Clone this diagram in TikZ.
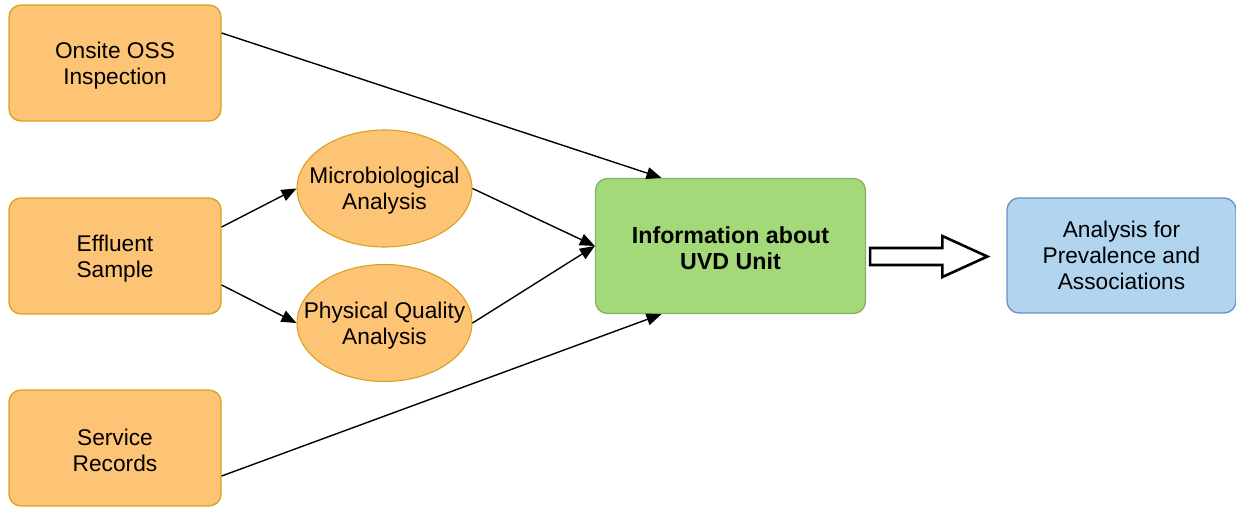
\documentclass[tikz,border=0pt]{standalone}
\usepackage{fontspec}
\setmainfont{Liberation Sans}
\usetikzlibrary{arrows.meta,calc,shapes.geometric}
\definecolor{orF}{HTML}{FDC476}
\definecolor{orD}{HTML}{D9A21E}
\definecolor{grF}{HTML}{A3D978}
\definecolor{grD}{HTML}{82B366}
\definecolor{blF}{HTML}{B1D5EF}
\definecolor{blD}{HTML}{6C8EBF}
\newcommand\dgfont{\fontsize{22.7}{26}\selectfont}
\newcommand\dgbold{\fontsize{23.2}{26}\selectfont\bfseries}
\begin{document}
\begin{tikzpicture}[x=1pt,y=-1pt,
  srcbox/.style={draw=orD, fill=orF, rounded corners=12pt, line width=1.3pt,
    minimum width=212pt, minimum height=116pt, inner sep=0pt},
  procell/.style={draw=orD, fill=orF, ellipse, line width=1.1pt,
    minimum width=175pt, minimum height=117pt, inner sep=0pt},
  celltext/.style={align=center, font=\dgfont, inner sep=0pt, yshift=-2.5pt},
  boldtext/.style={align=center, font=\dgbold, inner sep=0pt, yshift=-2.5pt},
  infobox/.style={draw=grD, fill=grF, rounded corners=12pt, line width=1.3pt,
    minimum width=270pt, minimum height=135pt, inner sep=0pt},
  resbox/.style={draw=blD, fill=blF, rounded corners=12pt, line width=1.3pt,
    minimum width=229pt, minimum height=115pt, align=center, font=\dgfont, inner sep=0pt},
  conn/.style={line width=1.4pt, -{Triangle[length=15pt,width=12pt]}},
  bigarrow/.style={draw=black, fill=white, line width=2.6pt, line join=miter}
]
\useasboundingbox (0,0) rectangle (1236,506);
\node[srcbox] (ons) at (115,63) {};
\node[celltext] (onsT) at (ons.center) {Onsite OSS\\Inspection};
\node[srcbox] (eff) at (115,256) {};
\node[celltext] (effT) at (eff.center) {Effluent\\Sample};
\node[srcbox] (ser) at (115,448) {};
\node[celltext] (serT) at (ser.center) {Service\\Records};
\node[procell] (mic) at (384.5,188.5) {};
\node[celltext] (micT) at (mic.center) {Microbiological\\Analysis};
\node[procell] (phy) at (384.5,323) {};
\node[celltext] (phyT) at (phy.center) {Physical Quality\\Analysis};
\node[infobox] (info) at (730.5,246) {};
\node[boldtext] (infoT) at (info.center) {Information about\\UVD Unit};
\node[resbox] (ana) at (1121.5,255.5) {Analysis for\\Prevalence and\\Associations};

\draw[conn] ([yshift=30pt]ons.east) -- ([xshift=-69pt]info.north);
\draw[conn] ([yshift=29pt]eff.east) -- (mic.west);
\draw[conn] ([yshift=-29pt]eff.east) -- (phy.west);
\draw[conn] (mic.east) -- (info.west);
\draw[conn] (phy.east) -- (info.west);
\draw[conn] ([yshift=-28pt]ser.east) -- ([xshift=-69pt]info.south);

\coordinate (da) at ($(info.east |- ana.west)+(4,1)$);
\coordinate (db) at ($(ana.west)+(-19,1)$);
\draw[bigarrow] ($(da)+(0,-8.5)$) -- ($(db)+(-45,-8.5)$) -- ($(db)+(-45,-20.5)$)
  -- (db) -- ($(db)+(-45,20.5)$) -- ($(db)+(-45,8.5)$) -- ($(da)+(0,8.5)$) -- cycle;
\end{tikzpicture}
\end{document}
